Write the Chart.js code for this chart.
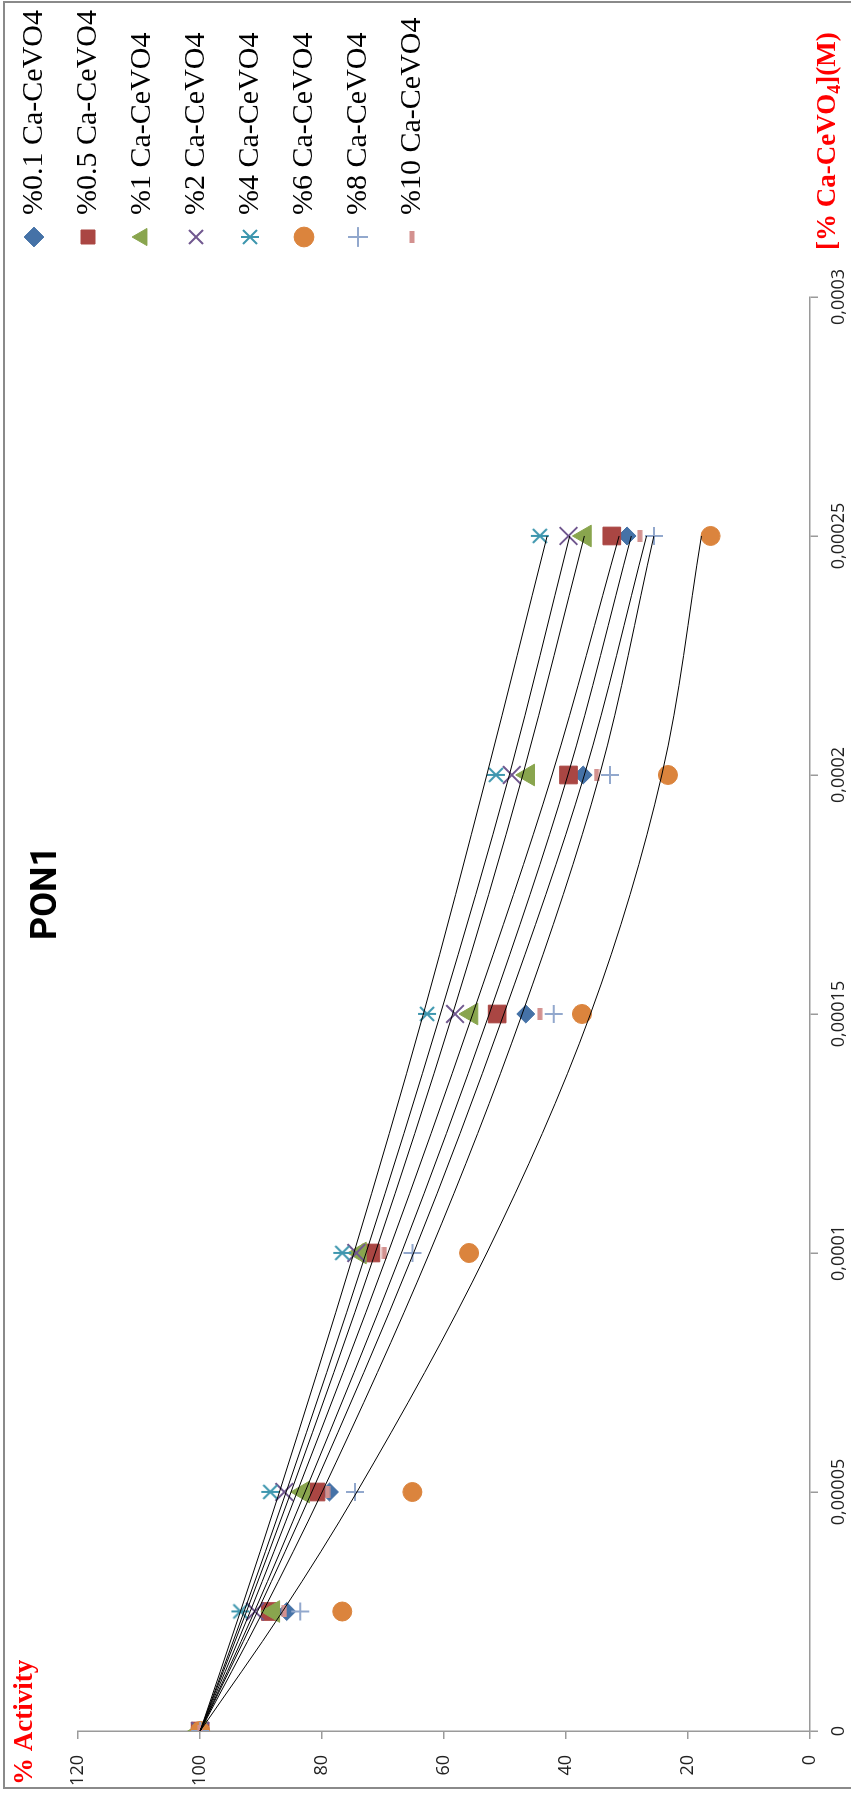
<!DOCTYPE html>
<html>
<head>
<meta charset="utf-8">
<title>PON1</title>
<script src="https://cdn.jsdelivr.net/npm/chart.js@4.4.1/dist/chart.umd.min.js"></script>
<style>
  html, body { margin: 0; padding: 0; background: #fff; width: 851px; height: 1796px; overflow: hidden; }
  /* the chart is laid out landscape and turned a quarter turn counter-clockwise */
  #frame { position: absolute; left: 0; top: 0; width: 1796px; height: 851px;
           transform-origin: 0 0; transform: translateY(1796px) rotate(-90deg); }
  canvas { display: block; }
</style>
</head>
<body>
<div id="frame"><canvas id="pon1" width="1796" height="851"></canvas></div>
<script>
// Inhibitor concentration, M
const concentrations = [0, 0.000025, 0.00005, 0.0001, 0.00015, 0.0002, 0.00025];

// Series names
const seriesNames = ['%0.1 Ca-CeVO4', '%0.5 Ca-CeVO4', '%1 Ca-CeVO4', '%2 Ca-CeVO4',
                     '%4 Ca-CeVO4', '%6 Ca-CeVO4', '%8 Ca-CeVO4', '%10 Ca-CeVO4'];

// Measured % activity for each doping level
const act01 = [100, 85.8, 78.8, 72.3, 46.6, 37.2, 30.0];
const act05 = [100, 88.5, 81.0, 72.0, 51.3, 39.6, 32.5];
const act1  = [100, 88.0, 83.1, 73.8, 55.5, 46.2, 36.9];
const act2  = [100, 91.0, 86.2, 74.4, 58.2, 48.9, 39.6];
const act4  = [100, 93.4, 88.5, 76.7, 62.8, 51.5, 44.3];
const act6  = [100, 76.7, 65.2, 55.9, 37.4, 23.3, 16.3];
const act8  = [100, 83.6, 74.6, 65.2, 42.0, 32.8, 25.6];
const act10 = [100, 86.2, 79.1, 69.8, 44.3, 35.0, 27.9];

// Trend curves (sampled along the concentration range)
const fitX  = [0, 0.000025, 0.00005, 0.0001, 0.00015, 0.0002, 0.00025];
const fit01 = [100, 91.1, 82.8, 67.0, 52.6, 39.7, 29.3];
const fit05 = [100, 91.8, 84.1, 69.2, 55.3, 42.3, 31.3];
const fit1  = [100, 92.4, 85.1, 71.3, 58.6, 47.1, 37.0];
const fit2  = [100, 92.8, 85.9, 72.8, 60.6, 49.3, 39.4];
const fit4  = [100, 93.4, 87.0, 74.8, 63.4, 53.0, 43.1];
const fit6  = [100, 86.5, 74.3, 53.0, 36.0, 24.3, 17.8];
const fit8  = [100, 89.7, 80.0, 62.4, 47.2, 34.5, 25.6];
const fit10 = [100, 90.6, 81.7, 65.0, 50.2, 37.0, 26.8];

// Axis tick labels
const xTickLabels = ['0', '0,00005', '0,0001', '0,00015', '0,0002', '0,00025', '0,0003'];
const yTickLabels = ['0', '20', '40', '60', '80', '100', '120'];

const activity = [act01, act05, act1, act2, act4, act6, act8, act10];
const fits = [fit01, fit05, fit1, fit2, fit4, fit6, fit8, fit10];

// ---- marker drawings that have no built-in point style ----
function asteriskMarker(color) {
  const c = document.createElement('canvas');
  c.width = 20; c.height = 20;
  const g = c.getContext('2d');
  g.strokeStyle = color; g.lineWidth = 2;
  g.beginPath();
  g.moveTo(3, 3); g.lineTo(17, 17);
  g.moveTo(17, 3); g.lineTo(3, 17);
  g.moveTo(10, 1); g.lineTo(10, 19);
  g.stroke();
  return c;
}
function dashMarker(color) {
  const c = document.createElement('canvas');
  c.width = 12; c.height = 6;
  const g = c.getContext('2d');
  g.fillStyle = color;
  g.fillRect(0, 0.5, 12, 5);
  return c;
}

const markerStyles = [
  { pointStyle: 'rectRot',  color: '#4572A7', radius: 9,    borderWidth: 1 },
  { pointStyle: 'rect',     color: '#AA4643', radius: 12.5, borderWidth: 1 },
  { pointStyle: 'triangle', color: '#89A54E', radius: 12.5, borderWidth: 1 },
  { pointStyle: 'crossRot', color: '#71588F', radius: 12.5, borderWidth: 2 },
  { pointStyle: asteriskMarker('#3D96AE'), color: '#3D96AE', radius: 10, borderWidth: 2 },
  { pointStyle: 'circle',   color: '#DB843D', radius: 9.5,  borderWidth: 1 },
  { pointStyle: 'cross',    color: '#92A8CD', radius: 9,    borderWidth: 2 },
  { pointStyle: dashMarker('#D3918F'), color: '#D3918F', radius: 6, borderWidth: 1 }
];

const markerSets = seriesNames.map((name, i) => ({
  type: 'scatter',
  label: name,
  data: concentrations.map((c, k) => ({ x: c, y: activity[i][k] })),
  pointStyle: markerStyles[i].pointStyle,
  pointRadius: markerStyles[i].radius,
  pointHoverRadius: markerStyles[i].radius,
  pointBackgroundColor: markerStyles[i].color,
  pointBorderColor: markerStyles[i].color,
  pointBorderWidth: markerStyles[i].borderWidth,
  backgroundColor: markerStyles[i].color,
  borderColor: markerStyles[i].color,
  showLine: false,
  // later series sit above earlier ones
  order: 1 + (seriesNames.length - 1 - i)
}));

const trendSets = fits.map((f, i) => ({
  type: 'line',
  label: 'trend ' + seriesNames[i],
  data: fitX.map((c, k) => ({ x: c, y: f[k] })),
  borderColor: '#000000',
  borderWidth: 1,
  pointRadius: 0,
  fill: false,
  cubicInterpolationMode: 'monotone',
  order: 0
}));

const tickFont = { family: '"Open Sans", sans-serif', size: 18 };

// frame, legend/title placement and red axis captions
const frameAndCaptions = {
  id: 'frameAndCaptions',
  afterLayout(chart) {
    const lg = chart.legend;
    const dx = 1528 - lg.left, dy = -5 - lg.top;
    lg.left += dx; lg.right += dx; lg.top += dy; lg.bottom += dy;
    const t = chart.titleBlock;
    const shift = 903 - (t.left + t.right) / 2;
    t.left += shift; t.right += shift;
  },
  beforeDraw(chart) {
    const ctx = chart.ctx;
    ctx.save();
    ctx.fillStyle = '#ffffff';
    ctx.fillRect(0, 0, chart.width, chart.height);
    ctx.strokeStyle = '#8a8a8a';
    ctx.lineWidth = 2;
    ctx.strokeRect(8, 4, 1786, 900);
    ctx.restore();
  },
  afterDraw(chart) {
    const ctx = chart.ctx;
    ctx.save();
    ctx.fillStyle = '#FF0000';
    ctx.textBaseline = 'alphabetic';
    ctx.textAlign = 'left';
    const big = 'bold 27px "Liberation Serif", serif';
    const sub = 'bold 18px "Liberation Serif", serif';
    ctx.font = big;
    ctx.fillText('% Activity', 11, 32);
    let x = 1546;
    const base = 835;
    ctx.fillText('[% Ca-CeVO', x, base);
    x += ctx.measureText('[% Ca-CeVO').width;
    ctx.font = sub;
    ctx.fillText('4', x, base + 5);
    x += ctx.measureText('4').width;
    ctx.font = big;
    ctx.fillText('](M)', x, base);
    ctx.restore();
  }
};

new Chart(document.getElementById('pon1'), {
  type: 'scatter',
  data: { datasets: [...markerSets, ...trendSets] },
  options: {
    responsive: false,
    animation: false,
    devicePixelRatio: 1,
    layout: { padding: { left: 8, right: 29, top: 4, bottom: 0 } },
    plugins: {
      title: {
        display: true,
        text: 'PON1',
        color: '#000000',
        font: { family: 'Roboto, sans-serif', size: 36, weight: 'bold' },
        padding: { top: 21, bottom: 10 }
      },
      legend: {
        position: 'right',
        align: 'start',
        labels: {
          usePointStyle: true,
          boxWidth: 14,
          boxHeight: 14,
          padding: 24,
          color: '#000000',
          font: { family: '"Liberation Serif", serif', size: 30 },
          filter: item => item.datasetIndex < seriesNames.length,
          sort: (a, b) => a.datasetIndex - b.datasetIndex
        }
      },
      tooltip: { enabled: false }
    },
    scales: {
      x: {
        type: 'linear',
        min: 0,
        max: 0.0003,
        ticks: {
          stepSize: 0.00005,
          maxRotation: 0,
          autoSkip: false,
          padding: 10,
          color: '#222222',
          font: tickFont,
          callback: (v) => xTickLabels[Math.round(v / 0.00005)]
        },
        grid: { drawOnChartArea: false, drawTicks: true, tickLength: 8, color: '#9a9a9a', lineWidth: 1.5 },
        border: { display: true, color: '#9a9a9a', width: 1.5 },
        afterFit: (s) => { s.height = 41; }
      },
      y: {
        min: 0,
        max: 120,
        ticks: {
          stepSize: 20,
          padding: 16,
          color: '#222222',
          font: tickFont,
          callback: (v) => yTickLabels[Math.round(v / 20)]
        },
        grid: { drawOnChartArea: false, drawTicks: true, tickLength: 8, color: '#9a9a9a', lineWidth: 1.5 },
        border: { display: true, color: '#9a9a9a', width: 1.5 },
        afterFit: (s) => { s.width = 57; }
      }
    }
  },
  plugins: [frameAndCaptions]
});
</script>
</body>
</html>
